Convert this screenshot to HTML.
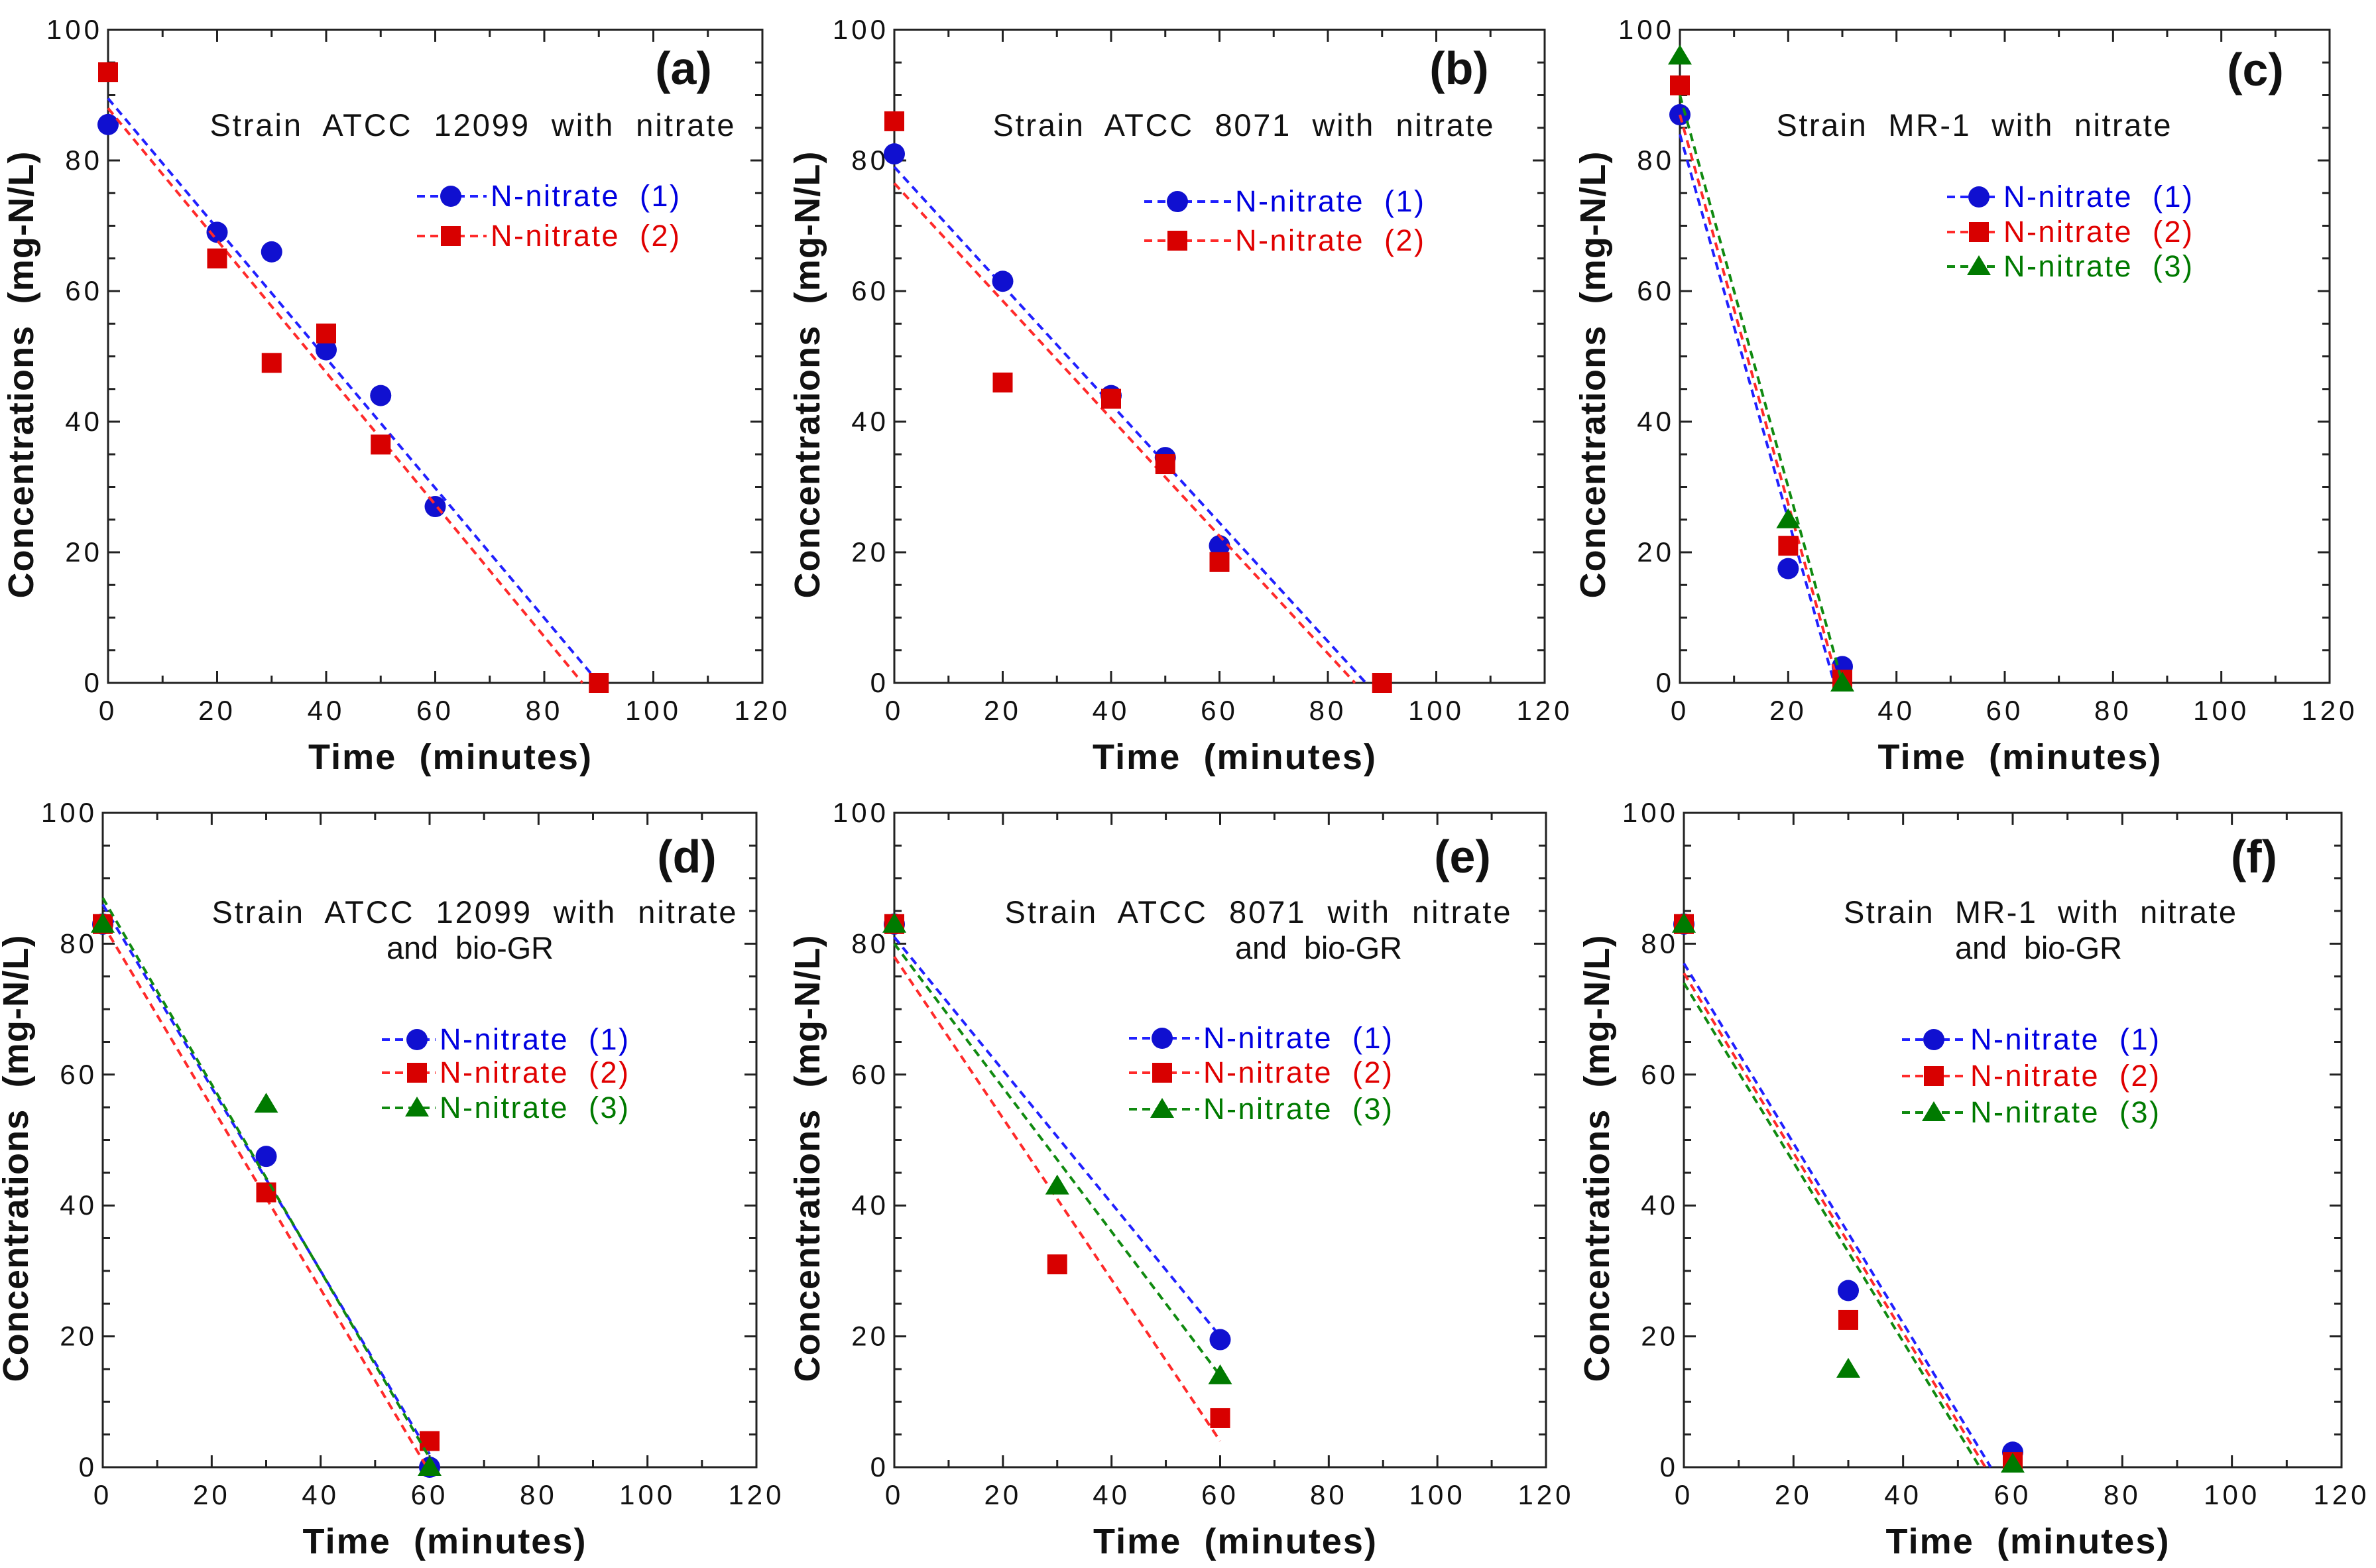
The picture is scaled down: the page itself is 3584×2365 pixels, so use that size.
<!DOCTYPE html>
<html><head><meta charset="utf-8"><style>
html,body{margin:0;padding:0;background:#fff}
svg{display:block;font-family:"Liberation Sans","DejaVu Sans",sans-serif}
svg text{white-space:pre}
</style></head><body>
<svg id="chart" width="3584" height="2365" viewBox="0 0 3584 2365" xmlns="http://www.w3.org/2000/svg"></svg>
<script>
// ---- data ----
const panelIds = ['a','b','c','d','e','f'];
const xTicks = [0,20,40,60,80,100,120];
const yTicks = [0,20,40,60,80,100];
const titles = {
  a:['Strain  ATCC  12099  with  nitrate'],
  b:['Strain  ATCC  8071  with  nitrate'],
  c:['Strain  MR-1  with  nitrate'],
  d:['Strain  ATCC  12099  with  nitrate','and  bio-GR'],
  e:['Strain  ATCC  8071  with  nitrate','and  bio-GR'],
  f:['Strain  MR-1  with  nitrate','and  bio-GR']
};
const aX1=[0,20,30,40,50,60], aY1=[85.5,69,66,51,44,27];
const aX2=[0,20,30,40,50,90], aY2=[93.5,65,49,53.5,36.5,0];
const aFit1=[[0,89.5],[90,0]], aFit2=[[0,88],[87,0]];
const bX1=[0,20,40,50,60], bY1=[81,61.5,44,34.5,21];
const bX2=[0,20,40,50,60,90], bY2=[86,46,43.5,33.5,18.5,0];
const bFit1=[[0,79],[87,0]], bFit2=[[0,76.5],[85,0]];
const cX=[0,20,30];
const cY1=[87,17.5,2.5], cY2=[91.5,21,0.5], cY3=[96,25,0];
const cFit1=[[0,84],[28.5,0]], cFit2=[[0,87],[29.2,0]], cFit3=[[0,90],[30,0]];
const dX=[0,30,60];
const dY1=[83,47.5,0], dY2=[83,42,4], dY3=[83,55.5,0];
const dFit1=[[0,86],[60,2]], dFit2=[[0,83],[59.5,0]], dFit3=[[0,87],[61,0]];
const eX=[0,30,60];
const eY1=[83,null,19.5], eY2=[83,31,7.5], eY3=[83,43,14];
const eFit1=[[0,81],[60,20]], eFit2=[[0,78],[60,4]], eFit3=[[0,80],[60,14]];
const fX=[0,30,60];
const fY1=[83,27,2.3], fY2=[83,22.5,0.8], fY3=[83,15,0.5];
const fFit1=[[0,77],[56,0]], fFit2=[[0,75.5],[55,0]], fFit3=[[0,74],[54,0]];
const legendLabels=['N-nitrate  (1)','N-nitrate  (2)','N-nitrate  (3)'];

// ---- layout ----
const frames={a:[163,45,1150,1030],b:[1349,45,2330,1030],c:[2534,45,3514,1030],
 d:[155,1226,1141,2213],e:[1349,1226,2332,2213],f:[2540,1226,3532,2213]};
const annot={a:{cx:[712],w:[791],y:205},b:{cx:[1875],w:[755],y:205},c:{cx:[2977],w:[595],y:205},
 d:{cx:[715,709],w:[791,252],y:1392},e:{cx:[1897,1989],w:[763,252],y:1392},f:{cx:[3077,3075],w:[592,252],y:1392}};
const leg={a:{lx:629,mx:680,tx:740,ys:[296,356]},b:{lx:1726,mx:1776,tx:1863,ys:[304,363]},
 c:{lx:2937,mx:2985,tx:3022,ys:[297,350,402]},d:{lx:576,mx:629,tx:663,ys:[1568,1618,1671]},
 e:{lx:1703,mx:1753,tx:1815,ys:[1566,1618,1673]},f:{lx:2869,mx:2917,tx:2972,ys:[1568,1623,1678]}};
const labelPos={a:[1031,103],b:[2201,103],c:[3402,105],d:[1036,1292],e:[2206,1292],f:[3400,1292]};
const markColor=['#1010d0','#d80000','#007a00'];
const lineColor=['#2020ff','#ff2a2a','#108a10'];
const textColor=['#0000e0','#e00000','#007a00'];

const svg=document.getElementById('chart');
const NS='http://www.w3.org/2000/svg';
function mk(tag,attrs,parent){const e=document.createElementNS(NS,tag);for(const k in attrs)e.setAttribute(k,attrs[k]);(parent||svg).appendChild(e);return e;}

function marker(g,type,cx,cy,col){
  let e;
  if(type===0){e=mk('circle',{cx:cx,cy:cy,r:16,fill:col},g);}
  else if(type===1){e=mk('rect',{x:cx-15,y:cy-15,width:30,height:30,fill:col},g);}
  else {e=mk('polygon',{points:`${cx},${cy-17} ${cx+18},${cy+13} ${cx-18},${cy+13}`,fill:col},g);}
  return e;
}

const seriesData={
 a:[[aX1,aY1,aFit1],[aX2,aY2,aFit2]],
 b:[[bX1,bY1,bFit1],[bX2,bY2,bFit2]],
 c:[[cX,cY1,cFit1],[cX,cY2,cFit2],[cX,cY3,cFit3]],
 d:[[dX,dY1,dFit1],[dX,dY2,dFit2],[dX,dY3,dFit3]],
 e:[[eX,eY1,eFit1],[eX,eY2,eFit2],[eX,eY3,eFit3]],
 f:[[fX,fY1,fFit1],[fX,fY2,fFit2],[fX,fY3,fFit3]]
};

panelIds.forEach(id=>{
  const [L,T,R,B]=frames[id];
  const sx=v=>L+(v/120)*(R-L);
  const sy=v=>B-(v/100)*(B-T);
  const g=mk('g',{});
  
  
  const fr=mk('rect',{x:L,y:T,width:R-L,height:B-T,fill:'none',stroke:'#222','stroke-width':3},g);
  
  
  let d='';
  for(let v=0;v<=120;v+=10){const x=sx(v);const len=v%20===0?18:11;d+=`M${x},${B}v${-len}M${x},${T}v${len}`;}
  for(let v=0;v<=100;v+=5){const y=sy(v);const len=v%20===0?18:11;d+=`M${L},${y}h${len}M${R},${y}h${-len}`;}
  const tk=mk('path',{d:d,stroke:'#222','stroke-width':3,fill:'none'},g);
  
  
  xTicks.forEach(v=>{const t=mk('text',{x:sx(v),y:B+56,'font-size':42,'letter-spacing':5,'text-anchor':'middle',fill:'#111'},g);t.textContent=v;
    
    });
  yTicks.forEach(v=>{const t=mk('text',{x:L-8,y:sy(v)+14,'font-size':42,'letter-spacing':5,'text-anchor':'end',fill:'#111'},g);t.textContent=v;
    
    });
  const xt=mk('text',{x:(L+R)/2+22,y:B+130,'font-size':54,'font-weight':'bold','text-anchor':'middle',fill:'#111',textLength:427,lengthAdjust:'spacing'},g);
  xt.textContent='Time  (minutes)';
  
  
  const yx=L-113, yy=(T+B)/2+28;
  const yt=mk('text',{x:yx,y:yy,'font-size':54,'font-weight':'bold','text-anchor':'middle',fill:'#111',transform:`rotate(-90 ${yx} ${yy})`,textLength:674,lengthAdjust:'spacing'},g);
  yt.textContent='Concentrations  (mg-N/L)';
  
  
  const pl=mk('text',{x:labelPos[id][0],y:labelPos[id][1]+24,'font-size':70,'font-weight':'bold','text-anchor':'middle',fill:'#111'},g);
  pl.textContent='('+id+')';
  
  
  const an=annot[id];
  titles[id].forEach((s,i)=>{const t=mk('text',{x:an.cx[i],y:an.y+i*54,'font-size':47,'text-anchor':'middle',fill:'#111',textLength:an.w[i],lengthAdjust:'spacing'},g);
    t.textContent=s;
    
    });
  seriesData[id].forEach((s,si)=>{
    const [xs,ys,fit]=s;
    const sg=mk('g',{},g);
    
    
    const fl=mk('line',{x1:sx(fit[0][0]),y1:sy(fit[0][1]),x2:sx(fit[1][0]),y2:sy(fit[1][1]),stroke:lineColor[si],'stroke-width':4,'stroke-dasharray':'12 8'},sg);
    
    
    xs.forEach((x,i)=>{if(ys[i]==null)return;const m=marker(sg,si,sx(x),sy(ys[i]),markColor[si]);
      
      });
  });
  const lg=leg[id];
  seriesData[id].forEach((s,si)=>{
    const y=lg.ys[si];
    const eg=mk('g',{},g);
    
    
    mk('line',{x1:lg.lx,y1:y,x2:lg.tx-6,y2:y,stroke:lineColor[si],'stroke-width':4,'stroke-dasharray':'12 8'},eg);
    marker(eg,si,lg.mx,y,markColor[si]);
    const t=mk('text',{x:lg.tx,y:y+15,'font-size':45,fill:textColor[si],textLength:285,lengthAdjust:'spacing'},eg);
    t.textContent=legendLabels[si];
  });
});
</script>
</body></html>
